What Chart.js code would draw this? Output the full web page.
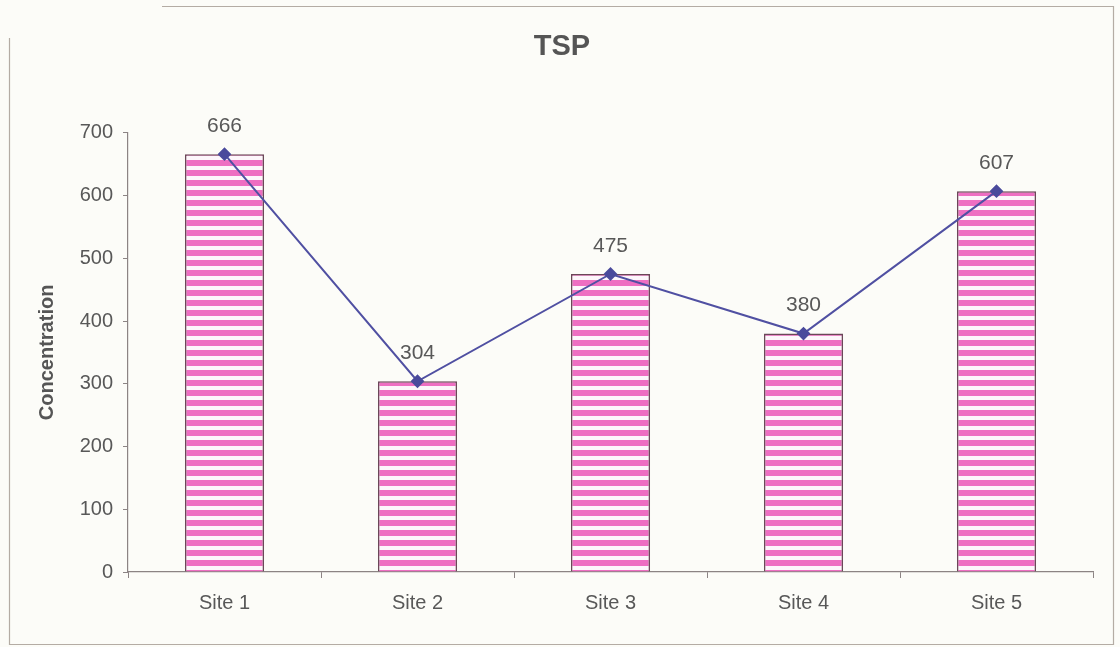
<!DOCTYPE html>
<html>
<head>
<meta charset="utf-8">
<script src="https://cdn.jsdelivr.net/npm/chart.js@4.4.1/dist/chart.umd.min.js"></script>
<style>
  html, body { margin: 0; padding: 0; background: #fcfcf8; }
  #wrap { width: 1120px; height: 647px; position: relative; }
</style>
</head>
<body>
<div id="wrap"><canvas id="c" width="1120" height="647"></canvas></div>
<script>
// TSP concentration by site
const sites = ['Site 1', 'Site 2', 'Site 3', 'Site 4', 'Site 5'];
const concentration = [666, 304, 475, 380, 607];
const yTicks = [0, 100, 200, 300, 400, 500, 600, 700];

const FONT = '"Liberation Sans", Arial, sans-serif';

// Horizontal pink/white stripe fill for the bars
function stripePattern() {
  const p = document.createElement('canvas');
  p.width = 8; p.height = 10;
  const g = p.getContext('2d');
  g.fillStyle = '#fdf6fb';
  g.fillRect(0, 0, 8, 10);
  g.fillStyle = '#ee6ec2';
  g.fillRect(0, 0, 8, 6);
  return g.createPattern(p, 'repeat');
}

const ctx = document.getElementById('c').getContext('2d');

// Value labels above the line points
const valueLabels = {
  id: 'valueLabels',
  afterDatasetsDraw(chart) {
    const meta = chart.getDatasetMeta(1);
    const c = chart.ctx;
    c.save();
    c.font = '21px ' + FONT;
    c.fillStyle = '#585858';
    c.textAlign = 'center';
    c.textBaseline = 'middle';
    meta.data.forEach((pt, i) => {
      c.fillText(String(chart.data.datasets[1].data[i]), pt.x, pt.y - 28);
    });
    c.restore();
  }
};

// Outer frame of the chart panel
const frame = {
  id: 'frame',
  beforeDraw(chart) {
    const c = chart.ctx;
    c.save();
    c.strokeStyle = '#b4aca4';
    c.lineWidth = 1.2;
    c.beginPath();
    c.moveTo(9.5, 38); c.lineTo(9.5, 644.5); c.lineTo(1113.5, 644.5);
    c.lineTo(1113.5, 6.5); c.lineTo(162, 6.5);
    c.stroke();
    c.restore();
  }
};

new Chart(ctx, {
  data: {
    labels: sites,
    datasets: [
      {
        type: 'bar',
        data: concentration,
        backgroundColor: stripePattern(),
        borderColor: '#6a4858',
        borderWidth: 1.6,
        barPercentage: 0.41,
        categoryPercentage: 1.0,
        order: 2
      },
      {
        type: 'line',
        data: concentration,
        borderColor: '#5050a2',
        borderWidth: 2,
        pointStyle: 'rectRot',
        pointRadius: 5.5,
        pointBackgroundColor: '#4a4a9c',
        pointBorderColor: '#4a4a9c',
        tension: 0,
        order: 1
      }
    ]
  },
  options: {
    responsive: false,
    animation: false,
    layout: { padding: { left: 31, right: 27, top: 0, bottom: 29 } },
    plugins: {
      legend: { display: false },
      tooltip: { enabled: false },
      title: {
        display: true,
        text: 'TSP',
        color: '#555',
        font: { family: FONT, size: 29, weight: 'bold' },
        padding: { top: 30, bottom: 68 }
      }
    },
    scales: {
      x: {
        offset: true,
        grid: { display: true, drawOnChartArea: false, drawTicks: true, tickLength: 6, color: '#8c8484', offset: true },
        border: { display: true, color: '#8c8484', width: 1.2 },
        ticks: { color: '#585858', font: { family: FONT, size: 20 }, padding: 13 },
        afterFit(s) { s.height = 46; }
      },
      y: {
        min: 0,
        max: 700,
        afterBuildTicks(s) { s.ticks = yTicks.map(v => ({ value: v })); },
        grid: { display: true, drawOnChartArea: false, drawTicks: true, tickLength: 5, color: '#8c8484' },
        border: { display: true, color: '#8c8484', width: 1.2 },
        ticks: { color: '#585858', font: { family: FONT, size: 20 }, padding: 10 },
        title: {
          display: true,
          text: 'Concentration',
          color: '#555',
          font: { family: FONT, size: 20, weight: 'bold' },
          padding: { top: 4, bottom: 4 }
        },
        afterFit(s) { s.width = 97; }
      }
    }
  },
  plugins: [frame, valueLabels]
});
</script>
</body>
</html>
